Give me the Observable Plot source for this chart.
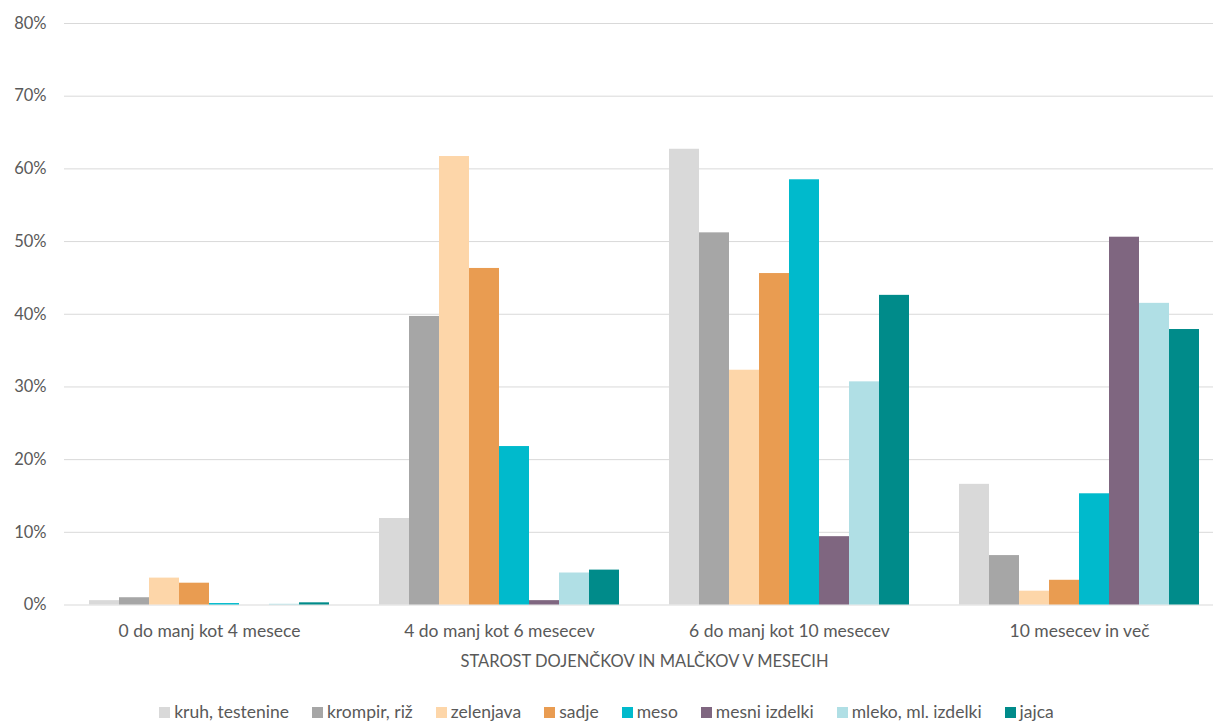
<!DOCTYPE html>
<html>
<head>
<meta charset="utf-8">
<script src="https://cdn.jsdelivr.net/npm/d3@7"></script>
<script src="https://cdn.jsdelivr.net/npm/@observablehq/plot@0.6"></script>
<style>
  html, body { margin: 0; padding: 0; background: #fff; overflow: hidden; }
  #wrap { width: 1213px; height: 680px; overflow: hidden; position: relative; }
  #wrap svg { max-width: none !important; }
  #legend { display: flex; justify-content: center; align-items: center; gap: 23px;
    font-family: Lato, "Liberation Sans", sans-serif; font-size: 17.5px; line-height: 20px; color: #595959;
    width: 1213px; margin-top: 22px; box-sizing: border-box; }
  #legend .item { display: flex; align-items: center; gap: 4px; white-space: nowrap; }
  #legend .sw { width: 11px; height: 11px; display: inline-block; }
</style>
</head>
<body>
<div id="wrap"><div id="chart"></div></div>
<div id="legend"></div>
<script>
const groups = ["0 do manj kot 4 mesece", "4 do manj kot 6 mesecev", "6 do manj kot 10 mesecev", "10 mesecev in več"];
const series = ["kruh, testenine", "krompir, riž", "zelenjava", "sadje", "meso", "mesni izdelki", "mleko, ml. izdelki", "jajca"];
const colors = ["#D9D9D9", "#A6A6A6", "#FDD6A9", "#E99C51", "#00BACC", "#7F6680", "#B0DFE5", "#008B8A"];
const kruh      = [0.6, 11.9, 62.7, 16.6];
const krompir   = [1.0, 39.7, 51.2, 6.8];
const zelenjava = [3.7, 61.7, 32.3, 1.9];
const sadje     = [3.0, 46.3, 45.6, 3.4];
const meso      = [0.2, 21.8, 58.5, 15.3];
const mesni     = [0.0, 0.6, 9.4, 50.6];
const mleko     = [0.1, 4.4, 30.7, 41.5];
const jajca     = [0.3, 4.8, 42.6, 37.9];
const yTicks = [0, 10, 20, 30, 40, 50, 60, 70, 80];
const xTitle = "STAROST DOJENČKOV IN MALČKOV V MESECIH";

const seriesValues = [kruh, krompir, zelenjava, sadje, meso, mesni, mleko, jajca];
const data = [];
groups.forEach((g, gi) => {
  series.forEach((s, si) => data.push({group: g, series: s, value: seriesValues[si][gi]}));
});

const chart = Plot.plot({
  width: 1224,
  height: 680,
  marginLeft: 63,
  marginRight: 0,
  marginTop: 23,
  marginBottom: 75.5,
  style: {fontFamily: "Lato, 'Liberation Sans', sans-serif", fontSize: "16.5px", color: "#595959", background: "#fff", maxWidth: "none"},
  fx: {domain: groups, padding: 0, label: xTitle, labelAnchor: "center", labelOffset: 62, tickSize: 0, tickPadding: 20, axis: "bottom"},
  x: {domain: series, paddingInner: 0, paddingOuter: 0.76, axis: null},
  y: {domain: [0, 80], ticks: yTicks, tickFormat: d => d + "%", tickSize: 0, tickPadding: 18, label: null},
  color: {domain: series, range: colors},
  marks: [
    Plot.ruleY(yTicks, {stroke: "#D9D9D9", strokeWidth: 1}),
    Plot.barY(data, {fx: "group", x: "series", y: "value", fill: "series"})
  ]
});
chart.style.maxWidth = "none";
chart.style.width = "1224px";
chart.style.height = "680px";
chart.querySelectorAll("g[aria-label='fx-axis tick label'] text, g[aria-label='fx-axis'] g.tick text").forEach(t => t.style.fontSize = "17.5px");
document.getElementById("chart").appendChild(chart);

const legend = document.getElementById("legend");
series.forEach((s, i) => {
  const it = document.createElement("span");
  it.className = "item";
  const sw = document.createElement("span");
  sw.className = "sw";
  sw.style.background = colors[i];
  const t = document.createElement("span");
  t.textContent = s;
  it.appendChild(sw); it.appendChild(t);
  legend.appendChild(it);
});
</script>
</body>
</html>
